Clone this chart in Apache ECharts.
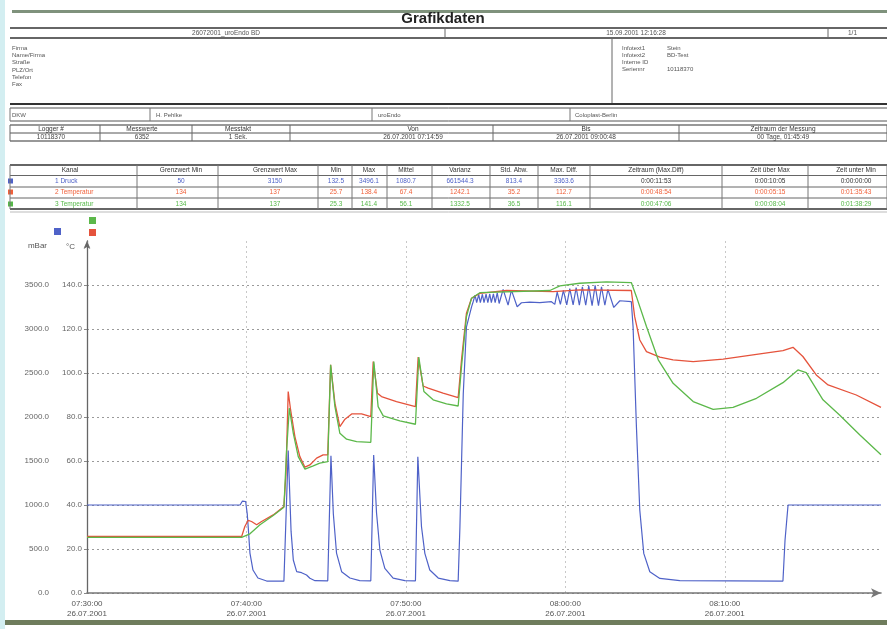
<!DOCTYPE html>
<html><head><meta charset="utf-8">
<script src="https://cdn.jsdelivr.net/npm/echarts@6.0.0/dist/echarts.min.js"></script>
<style>html,body{margin:0;padding:0;background:#fff}#c{width:887px;height:629px}</style>
</head><body><div id="c"></div>
<script>
// ---------------- DATA ----------------
const startTime = '07:30:00';
const xDate = '26.07.2001';
// Kanal 1: Druck (mBar) - minutes after 07:30:00
const druckT = [0,9.6,9.75,9.95,10.05,10.11,10.22,10.41,10.72,11.27,12.35,12.62,12.8,12.94,13.15,13.46,13.77,13.98,14.3,15.1,15.3,15.45,15.65,15.97,16.49,17.1,17.8,17.98,18.16,18.37,18.68,19.2,19.94,20.6,20.75,20.98,21.19,21.5,22.03,22.76,23.28,23.39,23.6,23.8,24.12,24.22,
 24.34,24.44,24.57,24.67,24.8,24.9,25.03,25.14,25.26,25.36,25.49,25.6,25.73,25.85,26.1,26.41,26.62,26.98,27.25,27.77,28.4,29.13,
 29.34,29.49,29.69,29.88,30.09,30.28,30.49,30.68,30.88,31.07,31.28,31.47,31.68,31.87,32.08,32.27,32.48,32.67,33.04,33.42,34.14,
 34.25,34.46,34.67,34.92,35.3,35.93,37.18,43.65,43.78,43.97,49.8];
const druckV = [1000,1000,1045,1040,900,753,454,261,170,136,134,1620,700,375,242,231,204,167,140,138,1560,900,454,242,170,140,138,1568,909,488,280,170,140,138,1548,753,451,261,170,140,135,753,2268,3025,3252,3310,
 3385,3300,3390,3300,3395,3300,3395,3300,3400,3300,3400,3300,3410,3290,3450,3272,3442,3253,3298,3305,3300,3310,
 3280,3420,3280,3440,3275,3460,3275,3470,3270,3480,3270,3490,3265,3496,3265,3480,3270,3450,3245,3321,3310,
 3026,1890,943,450,242,166,140,136,600,1000,1000];
// Kanal 2: Temperatur (°C)
const temp2T = [0,9.7,9.9,10.11,10.32,10.64,10.95,11.68,12.35,12.48,12.62,12.77,13.04,13.35,13.67,13.98,14.4,14.81,15.1,15.28,15.55,15.86,16.18,16.6,17.22,17.8,17.95,18.22,18.47,19.41,20.6,20.77,21.08,21.4,22.33,23.28,23.49,23.8,24.12,24.64,26.31,29.24,30.9,34.14,34.35,34.67,35.09,35.93,36.76,38.02,39.9,41.99,43.65,44.28,44.9,45.74,46.48,48.25,49.8];
const temp2V = [25.7,25.7,30.2,33.0,32.5,31.0,32.5,35.5,39.3,54.4,91.6,83.2,71.1,62.0,57.2,58.2,61.3,62.8,62.8,103.7,86.3,75.6,79.0,81.4,81.4,80.2,105.2,90.8,89.3,87.0,84.7,107.2,94.1,93.1,90.8,88.8,106,127.2,134,136.2,137.5,137,137.8,137.5,125.6,115,109.7,107.2,106,105.2,106.3,108.5,110.2,111.7,107.5,99.1,94.6,90,84.4];
// Kanal 3: Temperatur (°C)
const temp3T = [0,9.7,10.22,10.85,11.68,12.35,12.52,12.69,12.94,13.25,13.67,14.19,14.6,15.1,15.28,15.55,15.86,16.28,16.91,17.8,17.99,18.26,18.58,19.62,20.6,20.81,21.13,21.71,22.55,23.28,23.49,23.8,24.12,24.64,29.03,29.66,30.9,32.58,34.14,34.46,35.09,35.83,36.76,38.02,39.27,40.52,41.99,43.65,44.59,45.11,46.16,47.2,48.46,49.8];
const temp3V = [25.3,25.3,26.9,31.0,35.2,39.0,65.0,84,72.6,62.0,56.3,57.8,59.0,59.7,103.7,84.7,72.6,69.9,68.8,68.5,105.2,84.7,80.5,78.2,76.7,107.2,91.6,87.8,86,85.0,102.9,125.7,134,136.5,137.5,139.6,140.8,141.4,141.1,134.7,121.1,106,95.3,87,83.5,84.4,88.5,95.6,101.4,100.2,87.8,80.9,71.9,62.8];

const headerRow = ['26072001_uroEndo BD','15.09.2001 12:16:28','1/1'];
const addrLabels = ['Firma','Name/Firma','Straße','PLZ/Ort','Telefon','Fax'];
const infoLabels = ['Infotext1','Infotext2','Interne ID','Seriennr'];
const infoValues = ['Stein','BD-Test','','10118370'];
const customerRow = ['DKW','H. Pehlke','uroEndo','Coloplast-Berlin'];
const loggerHeader = ['Logger #','Messwerte','Messtakt','Von','Bis','Zeitraum der Messung'];
const loggerValues = ['10118370','6352','1 Sek.','26.07.2001 07:14:59','26.07.2001 09:00:48','00 Tage, 01:45:49'];
const chanHeader = ['Kanal','Grenzwert Min','Grenzwert Max','Min','Max','Mittel','Varianz','Std. Abw.','Max. Diff.','Zeitraum (Max.Diff)','Zeit über Max','Zeit unter Min'];
const chanRows = [
 ['1 Druck','50','3150','132.5','3496.1','1080.7','661544.3','813.4','3363.6','0:00:11:53','0:00:10:05','0:00:00:00'],
 ['2 Temperatur','134','137','25.7','138.4','67.4','1242.1','35.2','112.7','0:00:48:54','0:00:05:15','0:01:35:43'],
 ['3 Temperatur','134','137','25.3','141.4','56.1','1332.5','36.5','116.1','0:00:47:06','0:00:08:04','0:01:38:29']];

// ---------------- STYLE / LAYOUT ----------------
const C_BLUE = '#4f62c8', C_RED = '#e5533c', C_GREEN = '#5cb84a';
const FONT = '"Liberation Sans", Arial, sans-serif';
const G = [];
function txt(x, y, s, o) {
  o = o || {};
  G.push({type:'text', x:x, y:y, silent:true, z:10, style:{text:s, fill:o.color||'#555',
    font:(o.bold?'bold ':'')+(o.size||7)+'px '+FONT, textAlign:o.align||'left', textVerticalAlign:'middle'}});
}
function ln(x1,y1,x2,y2,c,w){G.push({type:'line',silent:true,z:9,shape:{x1,y1,x2,y2},style:{stroke:c||'#444',lineWidth:w||1}});}
function rc(x,y,w,h,f){G.push({type:'rect',silent:true,z:8,shape:{x,y,width:w,height:h},style:{fill:f}});}

// scan borders
rc(0,0,5,629,'#d3eef1');
rc(12,10,875,3,'#7f927c');
rc(5,620,882,5,'#6f7c5c');
// title
txt(443,19,'Grafikdaten',{bold:true,size:15,color:'#222',align:'center'});
// header row
ln(10,28,887,28,'#333',1.5); ln(10,38,887,38,'#333',1.5);
ln(445,28,445,38,'#666'); ln(828,28,828,38,'#666');
txt(226,33,headerRow[0],{align:'center',size:6.5}); txt(636,33,headerRow[1],{align:'center',size:6.5}); txt(848,33,headerRow[2],{size:6.5});
// address block
addrLabels.forEach((s,i)=>txt(12,48+i*7.3,s,{size:6}));
ln(612,38,612,104,'#666');
infoLabels.forEach((s,i)=>{txt(622,48+i*7,s,{size:6}); if(infoValues[i]) txt(667,48+i*7,infoValues[i],{size:6});});
ln(10,104,887,104,'#333',2);
// customer row
ln(10,108,887,108,'#555'); ln(10,121,887,121,'#555');
[10,150,372,570].forEach(x=>ln(x,108,x,121,'#777'));
[12,156,378,575].forEach((x,i)=>txt(x,115,customerRow[i],{size:6}));
// logger table
const lgB = [10,100,192,290,493,679,887];
const lgC = [51,142,238,413,586,783];
ln(10,125,887,125,'#333',1.2); ln(10,133,887,133,'#555'); ln(10,141,887,141,'#333',1.2);
lgB.forEach(x=>ln(x,125,x,141,'#666'));
loggerHeader.forEach((s,i)=>txt(lgC[i],129,s,{align:'center',size:6.5,color:'#333'}));
loggerValues.forEach((s,i)=>txt(lgC[i],137,s,{align:'center',size:6.5,color:'#444'}));
// channel table
const chB = [10,137,218,318,352,387,432,490,538,590,722,808,887];
const chC = [70,181,275,336,369,406,460,514,564,656,770,856];
const rowY = [181,192,204];
const rowCol = [C_BLUE, '#f0603a', '#55b848'];
[165,175.5,187,198,209].forEach((y,i)=>ln(10,y,887,y,i===0||i===4?'#333':'#666',i===0||i===4?1.3:1));
chB.forEach(x=>ln(x,165,x,209,'#777'));
chanHeader.forEach((s,i)=>txt(chC[i],170,s,{align:'center',size:6.5,color:'#333'}));
chanRows.forEach((r,ri)=>{
  rc(8,rowY[ri]-2.5,5,5,rowCol[ri]);
  r.forEach((s,ci)=>{
    let col = rowCol[ri];
    if (ri===0 && ci>=9) col = '#333';
    if (ci===0) txt(55,rowY[ri],s,{size:6.5,color:col});
    else txt(chC[ci],rowY[ri],s,{align:'center',size:6.5,color:col});
  });
});
ln(10,212,887,212,'#bbb');
// axis decorations
rc(54,228,7,7,C_BLUE); rc(89,217,7,7,C_GREEN); rc(89,229,7,7,C_RED);
txt(47,246,'mBar',{size:8,align:'right',color:'#555'});
txt(66,247,'°C',{size:8,color:'#555'});

// ---------------- CHART ----------------
function fmtTime(m) {
  const p = startTime.split(':').map(Number);
  let t = p[0]*3600 + p[1]*60 + p[2] + Math.round(m*60);
  const hh = Math.floor(t/3600), mm = Math.floor((t%3600)/60), ss = t%60;
  const z = n => String(n).padStart(2,'0');
  return z(hh)+':'+z(mm)+':'+z(ss);
}
const zip = (a,b) => a.map((t,i)=>[t,b[i]]);
const chart = echarts.init(document.getElementById('c'), null, {renderer:'canvas'});
chart.setOption({
  animation:false,
  backgroundColor:'#fff',
  grid:{left:87, right:6, top:241, bottom:36, containLabel:false},
  xAxis:{type:'value', min:0, max:49.8, interval:10,
    axisLine:{show:true, lineStyle:{color:'#777', width:1.6}, symbol:['none','arrow'], symbolSize:[7,10]},
    axisTick:{show:false},
    axisLabel:{formatter:v=>fmtTime(v)+'\n'+xDate, fontSize:8, lineHeight:10, color:'#555', fontFamily:FONT, margin:6, showMaxLabel:false},
    splitLine:{show:true, showMaxLine:false, lineStyle:{color:'#c8c8c8', type:[2,3], width:1}}},
  yAxis:[
    {type:'value', position:'left', offset:33, min:0, max:4000, interval:500,
     axisLine:{show:true, lineStyle:{color:'#aaa', width:1}, symbol:['none','arrow'], symbolSize:[5,7]},
     axisTick:{show:false},
     axisLabel:{formatter:v=>v.toFixed(1), fontSize:8, color:'#666', fontFamily:FONT, margin:5, showMaxLabel:false},
     splitLine:{show:true, showMaxLine:false, lineStyle:{color:'#9a9a9a', type:[2,3], width:1}}},
    {type:'value', position:'left', offset:0, min:0, max:160, interval:20,
     axisLine:{show:true, lineStyle:{color:'#666', width:1.3}, symbol:['none','arrow'], symbolSize:[5,8]},
     axisTick:{show:true, length:3, lineStyle:{color:'#888'}},
     axisLabel:{formatter:v=>v.toFixed(1), fontSize:8, color:'#666', fontFamily:FONT, margin:5, showMaxLabel:false},
     splitLine:{show:false}}
  ],
  series:[
    {name:'1 Druck', type:'line', yAxisIndex:0, data:zip(druckT,druckV), showSymbol:false, lineStyle:{color:C_BLUE, width:1.2}, itemStyle:{color:C_BLUE}},
    {name:'2 Temperatur', type:'line', yAxisIndex:1, data:zip(temp2T,temp2V), showSymbol:false, lineStyle:{color:C_RED, width:1.3}, itemStyle:{color:C_RED}},
    {name:'3 Temperatur', type:'line', yAxisIndex:1, data:zip(temp3T,temp3V), showSymbol:false, lineStyle:{color:C_GREEN, width:1.3}, itemStyle:{color:C_GREEN}}
  ],
  graphic:{elements:G}
});
</script></body></html>
